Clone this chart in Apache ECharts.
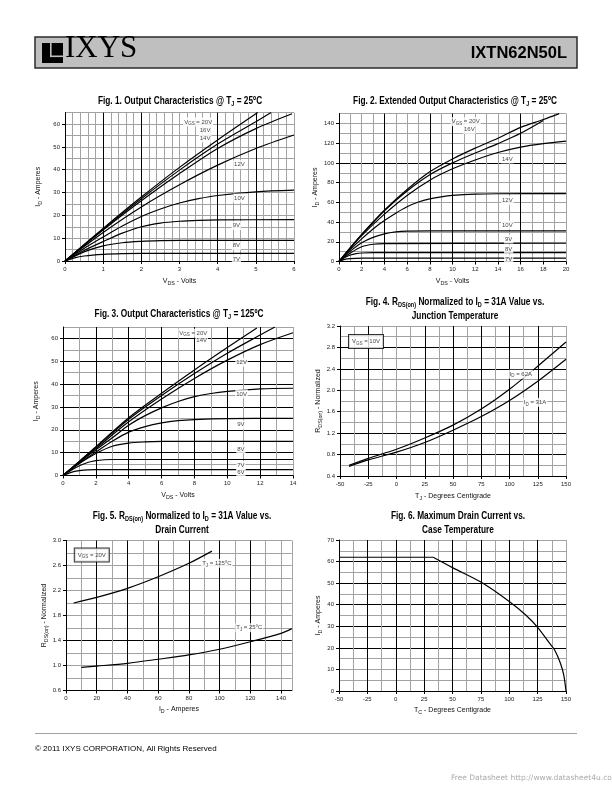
<!DOCTYPE html>
<html><head><meta charset="utf-8">
<script src="https://cdn.jsdelivr.net/npm/echarts@6/dist/echarts.min.js"></script>
<style>html,body{margin:0;padding:0;background:#fff}#c{width:612px;height:792px}</style>
</head><body><div id="c"></div>
<script>
// ---------- DATA ----------
// Fig 1: Output characteristics @ 25C  [VDS (V), ID (A)]
const f1_20V = [[0,0],[1,14.3],[2,28],[3,41],[4,53],[5.05,65]];
const f1_16V = [[0,0],[1,14],[2,27.3],[3,39.8],[4,51.2],[5,61],[5.4,65]];
const f1_14V = [[0,0],[1,13.6],[2,26.4],[3,38.3],[4,49.3],[5,58],[5.95,64.5]];
const f1_12V = [[0,0],[1,12.5],[2,23.7],[3,33.4],[4,42],[5,49.3],[6,55.2]];
const f1_10V = [[0,0],[0.5,5.5],[1,10.5],[1.5,15.3],[2,19.5],[2.5,22.8],[3,25.4],[3.5,27.3],[4,28.7],[5,30.3],[6,31]];
const f1_9V  = [[0,0],[0.5,4.6],[1,8.5],[1.5,12.2],[2,15],[2.5,16.6],[3,17.4],[3.5,17.8],[4,18],[6,18.1]];
const f1_8V  = [[0,0],[0.5,4],[1,6.6],[1.5,8],[2,8.6],[2.5,8.9],[3,9],[6,9]];
const f1_7V  = [[0,0],[0.25,1.4],[0.5,2.2],[1,2.9],[1.5,3.2],[2,3.3],[6,3.3]];
// Fig 2: Extended output characteristics @ 25C
const f2_20V = [[0,0],[1,14],[2,27.5],[4,52],[6,73],[8,91],[10,104],[12,115],[14,125],[16,136],[18,144],[19.4,150]];
const f2_16V = [[0,0],[1,14],[2,27.3],[4,51.5],[6,71.5],[8,88],[10,100],[12,110],[14,119.5],[16,130],[18,143]];
const f2_14V = [[0,0],[1,13.5],[2,26.3],[4,48],[6,67],[8,82.5],[10,94],[12,103],[14,110.5],[16,116],[18,119.5],[20,122]];
const f2_12V = [[0,0],[1,12.3],[2,23],[3,33],[4,41.5],[5,49],[6,55.5],[7,60.3],[8,63.5],[9,65.6],[10,67],[12,68.3],[14,68.7],[20,68.8]];
const f2_10V = [[0,0],[1,10.5],[2,19],[3,24.5],[4,28],[5,30],[6,30.8],[8,31],[20,31]];
const f2_9V  = [[0,0],[1,8.5],[2,15],[3,17.5],[4,18.2],[20,18.5]];
const f2_8V  = [[0,0],[0.5,4],[1,6.6],[1.5,8],[2,8.6],[3,9],[20,9]];
const f2_7V  = [[0,0],[0.5,2.2],[1,3],[2,3.4],[20,3.4]];
// Fig 3: Output characteristics @ 125C
const f3_20V = [[0,0],[1,6.3],[2,12.6],[4,25.3],[6,36],[8,46.2],[10,56],[11.8,64.6]];
const f3_14V = [[0,0],[1,6.2],[2,12.3],[4,24.6],[6,35],[8,44.6],[10,53.5],[12,61.5],[12.9,65]];
const f3_12V = [[0,0],[1,6],[2,11.8],[4,23.5],[6,33.5],[8,42.5],[10,50.5],[12,57.3],[14,62.5]];
const f3_10V = [[0,0],[1,5.8],[2,11.2],[3,16.5],[4,22],[5,26.2],[6,29.6],[7,32.4],[8,34.5],[9,35.9],[10,36.8],[12,37.9],[14,38.2]];
const f3_9V  = [[0,0],[1,5.5],[2,10.3],[3,15],[4,19],[5,21.4],[6,23],[7,24],[8,24.5],[10,24.9],[14,25]];
const f3_8V  = [[0,0],[1,5.2],[2,9.6],[3,12.8],[4,14.2],[5,14.7],[6,14.9],[14,14.9]];
const f3_7V  = [[0,0],[0.5,2.3],[1,4.3],[1.5,5.7],[2,6.5],[2.5,6.9],[3,7],[14,7]];
const f3_6V  = [[0,0],[0.5,1.4],[1,2.1],[1.5,2.5],[2,2.6],[14,2.6]];
// Fig 4: RDS(on) normalized vs junction temperature
const f4_tj   = [-42,-25,0,25,50,75,100,125,150];
const f4_62A  = [0.6,0.73,0.9,1.11,1.35,1.65,2.02,2.45,2.9];
const f4_31A  = [0.58,0.7,0.845,1.025,1.255,1.51,1.81,2.17,2.58];
// Fig 5: RDS(on) normalized vs drain current
const f5_id125 = [5,20,40,60,80,95];
const f5_r125  = [2.0,2.09,2.235,2.42,2.635,2.83];
const f5_id25  = [10,20,40,60,80,100,120,140,147];
const f5_r25   = [0.97,0.99,1.035,1.1,1.17,1.26,1.38,1.515,1.59];
// Fig 6: Max drain current vs case temperature
const f6_tc = [-50,33,50,75,100,115,125,135,140,145,148,150];
const f6_id = [62,62,57.2,50.5,41.5,35,29.5,22.5,19,13,7.5,0];
// Tick labels
const f1_xTicks = [0,1,2,3,4,5,6],            f1_yTicks = [0,10,20,30,40,50,60];
const f2_xTicks = [0,2,4,6,8,10,12,14,16,18,20], f2_yTicks = [0,20,40,60,80,100,120,140];
const f3_xTicks = [0,2,4,6,8,10,12,14],       f3_yTicks = [0,10,20,30,40,50,60];
const f4_xTicks = [-50,-25,0,25,50,75,100,125,150], f4_yTicks = [0.4,0.8,1.2,1.6,2.0,2.4,2.8,3.2];
const f5_xTicks = [0,20,40,60,80,100,120,140], f5_yTicks = [0.6,1.0,1.4,1.8,2.2,2.6,3.0];
const f6_xTicks = [-50,-25,0,25,50,75,100,125,150], f6_yTicks = [0,10,20,30,40,50,60,70];

// ---------- STYLE / LAYOUT ----------
const SANS = '"Liberation Sans", Arial, Helvetica, sans-serif';
const K = '#000', G = '#a3a3a3';
const zip = (a, b) => a.map((v, i) => [v, b[i]]);
function cols(n, blacks) { const a = []; for (let i = 0; i < n; i++) a.push(i === 0 || blacks.indexOf(i) >= 0 ? K : G); return a; }
function rich(fs) {
  return {
    a: {fontFamily: SANS, fontSize: fs, color: '#111', lineHeight: fs + 3},
    s: {fontFamily: SANS, fontSize: Math.round(fs * 0.75 * 10) / 10, color: '#111', lineHeight: fs * 0.75, verticalAlign: 'bottom'}
  };
}
const titleRich = {
  b: {fontFamily: SANS, fontWeight: 'bold', fontSize: 10.5, fill: '#000', color: '#000', lineHeight: 14},
  s: {fontFamily: SANS, fontWeight: 'bold', fontSize: 7, fill: '#000', color: '#000', lineHeight: 8, verticalAlign: 'bottom'}
};

const grids = [
  {left: 65, top: 112.6, width: 229, height: 148.4},
  {left: 339, top: 113.6, width: 227, height: 147.9},
  {left: 63, top: 327, width: 230, height: 148.5},
  {left: 340, top: 326, width: 226, height: 150},
  {left: 66, top: 540.5, width: 225.8, height: 150},
  {left: 339, top: 540, width: 227, height: 151}
];

const axCfg = [
  {xmin:0,xmax:6,xminor:0.2,xTicks:f1_xTicks,xCols:cols(31,[5,10,20,25]),xName:'{a|V}{s|DS}{a| - Volts}',xGap:15,
   ymin:0,ymax:65,yminor:5,yTicks:f1_yTicks,yCols:cols(14,[]),yName:'{a|I}{s|D}{a| - Amperes}',yGap:22},
  {xmin:0,xmax:20,xminor:1,xTicks:f2_xTicks,xCols:cols(21,[4,8,10,16]),xName:'{a|V}{s|DS}{a| - Volts}',xGap:15,
   ymin:0,ymax:150,yminor:10,yTicks:f2_yTicks,yCols:cols(16,[10]),yName:'{a|I}{s|D}{a| - Amperes}',yGap:17},
  {xmin:0,xmax:14,xminor:1,xTicks:f3_xTicks,xCols:cols(15,[2,4,6,8,10,12]),xName:'{a|V}{s|DS}{a| - Volts}',xGap:15,
   ymin:0,ymax:65,yminor:5,yTicks:f3_yTicks,yCols:cols(14,[2,4,6,8,10,12]),yName:'{a|I}{s|D}{a| - Amperes}',yGap:22},
  {xmin:-50,xmax:150,xminor:12.5,xTicks:f4_xTicks,xCols:cols(17,[2,6,8,10,12,14]),xName:'{a|T}{s|J}{a| - Degrees Centigrade}',xGap:15,
   ymin:0.4,ymax:3.2,yminor:0.2,yTicks:f4_yTicks,yCols:cols(15,[2,4,10,12]),yName:'{a|R}{s|DS(on)}{a| - Normalized}',yGap:17,yFmt:v=>v.toFixed(1)},
  {xmin:0,xmax:147,xminor:10,xTicks:f5_xTicks,xCols:cols(16,[2,4,6,8,10,12]),xName:'{a|I}{s|D}{a| - Amperes}',xGap:14,
   ymin:0.6,ymax:3.0,yminor:0.2,yTicks:f5_yTicks,yCols:cols(13,[4]),yName:'{a|R}{s|DS(on)}{a| - Normalized}',yGap:17,yFmt:v=>v.toFixed(1)},
  {xmin:-50,xmax:150,xminor:12.5,xTicks:f6_xTicks,xCols:cols(17,[2,4,6,8,10,12,14]),xName:'{a|T}{s|C}{a| - Degrees Centigrade}',xGap:14,
   ymin:0,ymax:70,yminor:5,yTicks:f6_yTicks,yCols:cols(15,[4,6,8,10,12]),yName:'{a|I}{s|D}{a| - Amperes}',yGap:15}
];

const xAxes = [], yAxes = [];
axCfg.forEach((c, i) => {
  const lbl = {fontSize: 6, fontFamily: SANS, color: '#222', margin: 5};
  xAxes.push({gridIndex:i, type:'value', min:c.xmin, max:c.xmax, z:3,
    axisLine:{show:true,onZero:false,lineStyle:{color:K,width:1}},
    axisTick:{show:true,length:3,customValues:c.xTicks,lineStyle:{color:K,width:1}},
    axisLabel:Object.assign({customValues:c.xTicks}, lbl),
    splitLine:{show:false},
    name:c.xName, nameLocation:'middle', nameGap:c.xGap, nameTextStyle:{rich:rich(7)}});
  xAxes.push({gridIndex:i, type:'value', min:c.xmin, max:c.xmax, interval:c.xminor, z:0,
    axisLine:{show:false}, axisTick:{show:false}, axisLabel:{show:false},
    splitLine:{show:true,lineStyle:{color:c.xCols,width:1}}});
  yAxes.push({gridIndex:i, type:'value', min:c.ymin, max:c.ymax, z:3,
    axisLine:{show:true,onZero:false,lineStyle:{color:K,width:1}},
    axisTick:{show:true,length:3,customValues:c.yTicks,lineStyle:{color:K,width:1}},
    axisLabel:Object.assign({customValues:c.yTicks, formatter:c.yFmt}, lbl),
    splitLine:{show:false},
    name:c.yName, nameLocation:'middle', nameGap:c.yGap, nameRotate:90, nameTextStyle:{rich:rich(7)}});
  yAxes.push({gridIndex:i, type:'value', min:c.ymin, max:c.ymax, interval:c.yminor, z:0,
    axisLine:{show:false}, axisTick:{show:false}, axisLabel:{show:false},
    splitLine:{show:true,lineStyle:{color:c.yCols,width:1}}});
});

function line(fi, data, sm) {
  return {type:'line', xAxisIndex:2*fi, yAxisIndex:2*fi, data:data, symbol:'none', showSymbol:false,
    smooth:(sm === undefined ? 0.3 : sm), lineStyle:{color:'#000', width:1.2}, silent:true, z:3, animation:false};
}
function notes(fi, items) {
  return {type:'scatter', xAxisIndex:2*fi, yAxisIndex:2*fi, symbolSize:0.1, silent:true, z:6, animation:false,
    itemStyle:{color:'rgba(0,0,0,0)'},
    data: items.map(it => ({value:[it[0], it[1]], label:Object.assign({show:true, position:'inside', formatter:it[2],
      backgroundColor:'#fff', padding:[0,1], rich:rich(6)}, it[3] || {})}))};
}
const boxed = {borderColor:'#000', borderWidth:1, padding:[2,3]};
const f6 = zip(f6_tc, f6_id);

const series = [
  line(0,f1_20V), line(0,f1_16V), line(0,f1_14V), line(0,f1_12V), line(0,f1_10V), line(0,f1_9V), line(0,f1_8V), line(0,f1_7V),
  line(1,f2_20V), line(1,f2_16V), line(1,f2_14V), line(1,f2_12V), line(1,f2_10V), line(1,f2_9V), line(1,f2_8V), line(1,f2_7V),
  line(2,f3_20V), line(2,f3_14V), line(2,f3_12V), line(2,f3_10V), line(2,f3_9V), line(2,f3_8V), line(2,f3_7V), line(2,f3_6V),
  line(3,zip(f4_tj,f4_62A)), line(3,zip(f4_tj,f4_31A)),
  line(4,zip(f5_id125,f5_r125)), line(4,zip(f5_id25,f5_r25)),
  line(5,f6.slice(0,2),0), line(5,f6.slice(1)),
  notes(0, [[3.49,60.9,'{a|V}{s|GS}{a| = 20V}'],[3.67,57.4,'{a|16V}'],[3.67,53.9,'{a|14V}'],[4.57,42.2,'{a|12V}'],
            [4.57,27.6,'{a|10V}'],[4.49,15.5,'{a|9V}'],[4.49,6.7,'{a|8V}'],[4.49,0.9,'{a|7V}']]),
  notes(1, [[11.16,141.8,'{a|V}{s|GS}{a| = 20V}'],[11.48,134,'{a|16V}'],[14.83,104,'{a|14V}'],[14.83,61.7,'{a|12V}'],
            [14.83,37,'{a|10V}'],[14.95,22.8,'{a|9V}'],[14.95,12.7,'{a|8V}'],[14.95,2.5,'{a|7V}']]),
  notes(2, [[7.93,62.3,'{a|V}{s|GS}{a| = 20V}'],[8.44,59,'{a|14V}'],[10.87,49.6,'{a|12V}'],[10.87,35.7,'{a|10V}'],
            [10.83,22.2,'{a|9V}'],[10.83,11.6,'{a|8V}'],[10.83,4.3,'{a|7V}'],[10.83,1.4,'{a|6V}']]),
  notes(3, [[110,2.3,'{a|I}{s|D}{a| = 62A}'],[122.6,1.776,'{a|I}{s|D}{a| = 31A}'],[-27,2.91,'{a|V}{s|GS}{a| = 10V}',boxed]]),
  notes(4, [[98.2,2.635,'{a|T}{s|J}{a| = 125ºC}'],[119.3,1.605,'{a|T}{s|J}{a| = 25ºC}'],[16.8,2.77,'{a|V}{s|GS}{a| = 20V}',boxed]])
];

// Titles drawn as condensed bold text (horizontal scale emulates the narrow face)
function title(text, cx, top) {
  return {type:'text', x:cx, y:top, scaleX:0.79, scaleY:1, z:20,
    style:{text:text, rich:titleRich, align:'center', verticalAlign:'top', textAlign:'center', textVerticalAlign:'top',
      font:'bold 10.5px "Liberation Sans", Arial, sans-serif', fill:'#000'}};
}
const titles = [
  title('{b|Fig. 1. Output Characteristics @ T}{s|J}{b| = 25ºC}', 180, 94),
  title('{b|Fig. 2. Extended Output Characteristics @ T}{s|J}{b| = 25ºC}', 455, 94),
  title('{b|Fig. 3. Output Characteristics @ T}{s|J}{b| = 125ºC}', 179, 307),
  title('{b|Fig. 4. R}{s|DS(on)}{b| Normalized to I}{s|D}{b| = 31A Value vs.}\n{b|Junction Temperature}', 455, 295),
  title('{b|Fig. 5. R}{s|DS(on)}{b| Normalized to I}{s|D}{b| = 31A Value vs.}\n{b|Drain Current}', 182, 509),
  title('{b|Fig. 6. Maximum Drain Current vs.}\n{b|Case Temperature}', 458, 509)
];

const graphic = [
  {type:'rect', shape:{x:35,y:37,width:542,height:31}, style:{fill:'#bfbfbf', stroke:'#2b2b2b', lineWidth:1.5}, z:10},
  {type:'rect', shape:{x:42,y:43,width:21,height:20}, style:{fill:'#000'}, z:11},
  {type:'rect', shape:{x:50,y:43,width:1.6,height:13}, style:{fill:'#bfbfbf'}, z:12},
  {type:'rect', shape:{x:50,y:55.5,width:13,height:1.6}, style:{fill:'#bfbfbf'}, z:12},
  {type:'text', z:12, style:{text:'IXYS', x:65, y:64, font:'31px "Liberation Serif", "Times New Roman", serif', fill:'#000',
    align:'left', verticalAlign:'bottom', textAlign:'left', textVerticalAlign:'bottom'}},
  {type:'text', z:12, style:{text:'IXTN62N50L', x:567, y:53, font:'bold 16.5px "Liberation Sans", Arial, sans-serif', fill:'#000',
    align:'right', verticalAlign:'middle', textAlign:'right', textVerticalAlign:'middle'}},
  {type:'line', shape:{x1:35,y1:733.5,x2:577,y2:733.5}, style:{stroke:'#888', lineWidth:0.8}},
  {type:'text', style:{text:'© 2011 IXYS CORPORATION, All Rights Reserved', x:35, y:749, font:'8px "Liberation Sans", Arial, sans-serif', fill:'#000',
    align:'left', verticalAlign:'middle', textAlign:'left', textVerticalAlign:'middle'}},
  {type:'text', style:{text:'Free Datasheet http://www.datasheet4u.com/', x:451, y:778, font:'7.5px "DejaVu Sans", sans-serif', fill:'#aaa',
    align:'left', verticalAlign:'middle', textAlign:'left', textVerticalAlign:'middle'}}
].concat(titles);

const chart = echarts.init(document.getElementById('c'), null, {renderer:'canvas'});
chart.setOption({
  animation:false,
  backgroundColor:'#fff',
  grid:grids,
  xAxis:xAxes,
  yAxis:yAxes,
  series:series,
  graphic:graphic
});
</script></body></html>
